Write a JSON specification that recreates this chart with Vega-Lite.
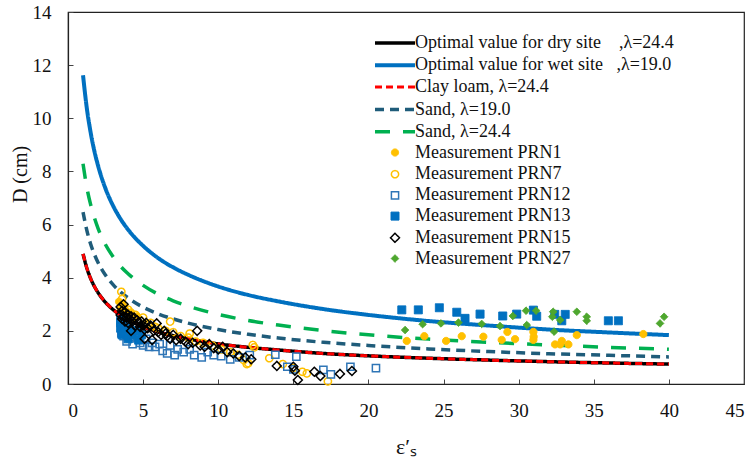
{
  "$schema": "https://vega.github.io/schema/vega-lite/v6.json",
  "width": 676,
  "height": 372,
  "autosize": {"type": "none"},
  "padding": {"left": 68, "top": 12, "right": 8, "bottom": 81},
  "background": "white",
  "config": {
    "font": "Liberation Serif",
    "view": {"stroke": "#222", "strokeWidth": 1.2},
    "axis": {
      "labelFont": "Liberation Serif", "labelFontSize": 19, "labelColor": "#111",
      "domainColor": "#222", "domainWidth": 1.2, "tickColor": "#444", "tickSize": -5,
      "grid": false, "titleFont": "Liberation Serif", "titleFontWeight": "normal", "titleColor": "#111"
    },
    "legend": {
      "labelFont": "Liberation Serif", "labelFontSize": 18, "labelColor": "#111",
      "labelLimit": 0, "symbolSize": 400, "labelOffset": 8, "rowPadding": 1.2,
      "padding": 0, "symbolOffset": 0
    }
  },
  "datasets": {
    "curves": [
      {"s":"A","x":1,"y":4.90},{"s":"A","x":1.25,"y":4.37},{"s":"A","x":1.5,"y":3.98},{"s":"A","x":1.75,"y":3.68},{"s":"A","x":2,"y":3.44},{"s":"A","x":2.5,"y":3.07},{"s":"A","x":3,"y":2.80},{"s":"A","x":3.5,"y":2.59},{"s":"A","x":4,"y":2.42},{"s":"A","x":5,"y":2.16},{"s":"A","x":6,"y":1.96},{"s":"A","x":7,"y":1.82},{"s":"A","x":8,"y":1.70},{"s":"A","x":10,"y":1.51},{"s":"A","x":12,"y":1.38},{"s":"A","x":14,"y":1.28},{"s":"A","x":17,"y":1.15},{"s":"A","x":20,"y":1.06},{"s":"A","x":24,"y":0.97},{"s":"A","x":28,"y":0.90},{"s":"A","x":32,"y":0.84},{"s":"A","x":36,"y":0.79},{"s":"A","x":40,"y":0.75},
      {"s":"B","x":1,"y":11.62},{"s":"B","x":1.25,"y":10.39},{"s":"B","x":1.5,"y":9.49},{"s":"B","x":1.75,"y":8.78},{"s":"B","x":2,"y":8.22},{"s":"B","x":2.5,"y":7.35},{"s":"B","x":3,"y":6.71},{"s":"B","x":3.5,"y":6.21},{"s":"B","x":4,"y":5.81},{"s":"B","x":5,"y":5.20},{"s":"B","x":6,"y":4.74},{"s":"B","x":7,"y":4.39},{"s":"B","x":8,"y":4.11},{"s":"B","x":10,"y":3.67},{"s":"B","x":12,"y":3.35},{"s":"B","x":14,"y":3.11},{"s":"B","x":17,"y":2.82},{"s":"B","x":20,"y":2.60},{"s":"B","x":24,"y":2.37},{"s":"B","x":28,"y":2.20},{"s":"B","x":32,"y":2.05},{"s":"B","x":36,"y":1.94},{"s":"B","x":40,"y":1.84},
      {"s":"D","x":1,"y":6.47},{"s":"D","x":1.25,"y":5.79},{"s":"D","x":1.5,"y":5.28},{"s":"D","x":1.75,"y":4.89},{"s":"D","x":2,"y":4.57},{"s":"D","x":2.5,"y":4.09},{"s":"D","x":3,"y":3.74},{"s":"D","x":3.5,"y":3.46},{"s":"D","x":4,"y":3.24},{"s":"D","x":5,"y":2.89},{"s":"D","x":6,"y":2.64},{"s":"D","x":7,"y":2.45},{"s":"D","x":8,"y":2.29},{"s":"D","x":10,"y":2.05},{"s":"D","x":12,"y":1.87},{"s":"D","x":14,"y":1.73},{"s":"D","x":17,"y":1.57},{"s":"D","x":20,"y":1.45},{"s":"D","x":24,"y":1.32},{"s":"D","x":28,"y":1.22},{"s":"D","x":32,"y":1.14},{"s":"D","x":36,"y":1.08},{"s":"D","x":40,"y":1.02},
      {"s":"E","x":1,"y":8.29},{"s":"E","x":1.25,"y":7.41},{"s":"E","x":1.5,"y":6.77},{"s":"E","x":1.75,"y":6.27},{"s":"E","x":2,"y":5.86},{"s":"E","x":2.5,"y":5.24},{"s":"E","x":3,"y":4.79},{"s":"E","x":3.5,"y":4.43},{"s":"E","x":4,"y":4.15},{"s":"E","x":5,"y":3.71},{"s":"E","x":6,"y":3.38},{"s":"E","x":7,"y":3.13},{"s":"E","x":8,"y":2.93},{"s":"E","x":10,"y":2.62},{"s":"E","x":12,"y":2.39},{"s":"E","x":14,"y":2.22},{"s":"E","x":17,"y":2.01},{"s":"E","x":20,"y":1.85},{"s":"E","x":24,"y":1.69},{"s":"E","x":28,"y":1.57},{"s":"E","x":32,"y":1.47},{"s":"E","x":36,"y":1.38},{"s":"E","x":40,"y":1.31},
      {"s":"C","x":1,"y":4.90},{"s":"C","x":1.25,"y":4.37},{"s":"C","x":1.5,"y":3.98},{"s":"C","x":1.75,"y":3.68},{"s":"C","x":2,"y":3.44},{"s":"C","x":2.5,"y":3.07},{"s":"C","x":3,"y":2.80},{"s":"C","x":3.5,"y":2.59},{"s":"C","x":4,"y":2.42},{"s":"C","x":5,"y":2.16},{"s":"C","x":6,"y":1.96},{"s":"C","x":7,"y":1.82},{"s":"C","x":8,"y":1.70},{"s":"C","x":10,"y":1.51},{"s":"C","x":12,"y":1.38},{"s":"C","x":14,"y":1.28},{"s":"C","x":17,"y":1.15},{"s":"C","x":20,"y":1.06},{"s":"C","x":24,"y":0.97},{"s":"C","x":28,"y":0.90},{"s":"C","x":32,"y":0.84},{"s":"C","x":36,"y":0.79},{"s":"C","x":40,"y":0.75}
    ],
    "points": [
      {"s":"F","x":3.4,"y":3.1},{"s":"F","x":3.5,"y":2.85},{"s":"F","x":3.6,"y":3.0},{"s":"F","x":3.8,"y":2.8},{"s":"F","x":4.2,"y":2.7},{"s":"F","x":4.6,"y":2.55},
      {"s":"F","x":22.55,"y":1.62},{"s":"F","x":23.72,"y":1.80},{"s":"F","x":25.17,"y":1.62},{"s":"F","x":26.21,"y":1.80},{"s":"F","x":27.65,"y":1.78},{"s":"F","x":28.87,"y":1.66},{"s":"F","x":29.25,"y":1.96},{"s":"F","x":29.76,"y":1.69},{"s":"F","x":30.98,"y":1.96},{"s":"F","x":31.0,"y":1.78},{"s":"F","x":30.98,"y":1.66},{"s":"F","x":32.42,"y":1.49},{"s":"F","x":32.76,"y":1.49},{"s":"F","x":32.87,"y":1.62},{"s":"F","x":33.31,"y":1.49},{"s":"F","x":33.87,"y":1.84},{"s":"F","x":38.3,"y":1.88},
      {"s":"G","x":3.55,"y":3.47},{"s":"G","x":3.6,"y":3.2},{"s":"G","x":3.7,"y":2.9},{"s":"G","x":3.9,"y":2.65},{"s":"G","x":4.0,"y":2.8},{"s":"G","x":4.3,"y":2.5},{"s":"G","x":4.5,"y":2.6},{"s":"G","x":4.8,"y":2.4},{"s":"G","x":5.0,"y":2.5},{"s":"G","x":5.3,"y":2.25},{"s":"G","x":5.5,"y":2.3},{"s":"G","x":5.8,"y":2.15},{"s":"G","x":6.0,"y":2.1},{"s":"G","x":6.5,"y":2.0},{"s":"G","x":6.8,"y":2.35},{"s":"G","x":7.0,"y":1.95},{"s":"G","x":7.5,"y":1.8},{"s":"G","x":8.1,"y":1.9},{"s":"G","x":8.0,"y":1.75},{"s":"G","x":8.5,"y":1.6},{"s":"G","x":9.0,"y":1.55},{"s":"G","x":9.6,"y":1.45},{"s":"G","x":10.2,"y":1.3},{"s":"G","x":10.8,"y":1.2},{"s":"G","x":11.3,"y":1.1},{"s":"G","x":11.7,"y":0.9},{"s":"G","x":11.9,"y":0.75},{"s":"G","x":12.0,"y":0.78},{"s":"G","x":12.3,"y":1.47},{"s":"G","x":12.4,"y":1.38},{"s":"G","x":13.4,"y":0.97},{"s":"G","x":14.3,"y":0.75},{"s":"G","x":15.0,"y":0.6},{"s":"G","x":15.6,"y":0.46},{"s":"G","x":15.9,"y":0.4},{"s":"G","x":17.3,"y":0.1},
      {"s":"H","x":3.5,"y":2.3},{"s":"H","x":3.55,"y":1.9},{"s":"H","x":3.6,"y":2.0},{"s":"H","x":3.7,"y":1.8},{"s":"H","x":3.8,"y":2.1},{"s":"H","x":3.9,"y":1.6},{"s":"H","x":4.0,"y":1.9},{"s":"H","x":4.15,"y":1.72},{"s":"H","x":4.3,"y":1.5},{"s":"H","x":4.4,"y":2.0},{"s":"H","x":4.6,"y":1.75},{"s":"H","x":4.8,"y":1.55},{"s":"H","x":5.0,"y":1.45},{"s":"H","x":5.2,"y":1.7},{"s":"H","x":5.4,"y":1.4},{"s":"H","x":5.6,"y":1.55},{"s":"H","x":5.8,"y":1.4},{"s":"H","x":6.1,"y":1.5},{"s":"H","x":6.3,"y":1.25},{"s":"H","x":6.6,"y":1.15},{"s":"H","x":6.8,"y":1.45},{"s":"H","x":7.1,"y":1.09},{"s":"H","x":7.3,"y":1.3},{"s":"H","x":7.7,"y":1.2},{"s":"H","x":8.1,"y":1.3},{"s":"H","x":8.4,"y":1.09},{"s":"H","x":8.9,"y":1.0},{"s":"H","x":9.3,"y":1.2},{"s":"H","x":9.7,"y":1.09},{"s":"H","x":10.2,"y":1.05},{"s":"H","x":10.8,"y":0.93},{"s":"H","x":11.4,"y":1.0},{"s":"H","x":12.1,"y":1.09},{"s":"H","x":13.8,"y":1.1},{"s":"H","x":14.6,"y":0.65},{"s":"H","x":15.0,"y":0.55},{"s":"H","x":15.2,"y":1.03},{"s":"H","x":17.0,"y":0.53},{"s":"H","x":17.5,"y":0.36},{"s":"H","x":18.8,"y":0.65},{"s":"H","x":20.5,"y":0.6},
      {"s":"I","x":3.5,"y":2.4},{"s":"I","x":3.5,"y":2.1},{"s":"I","x":3.6,"y":1.85},{"s":"I","x":3.7,"y":2.2},{"s":"I","x":3.8,"y":1.95},{"s":"I","x":3.9,"y":2.3},{"s":"I","x":4.0,"y":1.7},{"s":"I","x":4.1,"y":2.1},{"s":"I","x":4.3,"y":1.85},{"s":"I","x":4.5,"y":2.0},{"s":"I","x":4.7,"y":1.65},{"s":"I","x":4.9,"y":1.85},
      {"s":"I","x":22.22,"y":2.79},{"s":"I","x":23.32,"y":2.79},{"s":"I","x":24.72,"y":2.87},{"s":"I","x":25.88,"y":2.70},{"s":"I","x":26.43,"y":2.47},{"s":"I","x":27.43,"y":2.63},{"s":"I","x":28.94,"y":2.56},{"s":"I","x":29.87,"y":2.63},{"s":"I","x":30.98,"y":2.78},{"s":"I","x":31.2,"y":2.55},{"s":"I","x":32.4,"y":2.62},{"s":"I","x":32.87,"y":2.38},{"s":"I","x":33.1,"y":2.62},{"s":"I","x":35.97,"y":2.38},{"s":"I","x":36.64,"y":2.38},
      {"s":"J","x":3.5,"y":2.9},{"s":"J","x":3.5,"y":2.6},{"s":"J","x":3.6,"y":2.75},{"s":"J","x":3.6,"y":2.45},{"s":"J","x":3.7,"y":3.0},{"s":"J","x":3.7,"y":2.55},{"s":"J","x":3.8,"y":2.7},{"s":"J","x":3.8,"y":2.35},{"s":"J","x":3.9,"y":2.5},{"s":"J","x":4.0,"y":2.6},{"s":"J","x":4.0,"y":2.3},{"s":"J","x":4.1,"y":2.45},{"s":"J","x":4.2,"y":2.0},{"s":"J","x":4.2,"y":2.55},{"s":"J","x":4.3,"y":2.35},{"s":"J","x":4.4,"y":2.5},{"s":"J","x":4.5,"y":2.2},{"s":"J","x":4.6,"y":2.4},{"s":"J","x":4.7,"y":2.3},{"s":"J","x":4.8,"y":2.15},{"s":"J","x":4.9,"y":2.35},{"s":"J","x":5.0,"y":2.2},{"s":"J","x":5.1,"y":1.7},{"s":"J","x":5.1,"y":2.05},{"s":"J","x":5.2,"y":2.3},{"s":"J","x":5.3,"y":2.1},{"s":"J","x":5.5,"y":2.2},{"s":"J","x":5.6,"y":1.66},{"s":"J","x":5.7,"y":2.0},{"s":"J","x":5.9,"y":2.28},{"s":"J","x":6.0,"y":1.95},{"s":"J","x":6.2,"y":1.85},{"s":"J","x":6.4,"y":2.0},{"s":"J","x":6.5,"y":1.9},{"s":"J","x":6.6,"y":1.8},{"s":"J","x":6.8,"y":1.7},{"s":"J","x":7.0,"y":1.85},{"s":"J","x":7.2,"y":1.65},{"s":"J","x":7.5,"y":1.7},{"s":"J","x":7.8,"y":1.6},{"s":"J","x":8.0,"y":1.5},{"s":"J","x":8.3,"y":1.55},{"s":"J","x":8.6,"y":2.0},{"s":"J","x":8.8,"y":1.45},{"s":"J","x":9.1,"y":1.4},{"s":"J","x":9.4,"y":1.5},{"s":"J","x":9.7,"y":1.35},{"s":"J","x":10.0,"y":1.3},{"s":"J","x":10.3,"y":1.4},{"s":"J","x":10.6,"y":1.2},{"s":"J","x":11.0,"y":1.15},{"s":"J","x":11.4,"y":1.05},{"s":"J","x":11.8,"y":1.0},{"s":"J","x":12.2,"y":0.93},
      {"s":"J","x":13.9,"y":0.68},{"s":"J","x":15.0,"y":0.65},{"s":"J","x":15.1,"y":0.5},{"s":"J","x":15.3,"y":0.15},{"s":"J","x":16.4,"y":0.46},{"s":"J","x":16.8,"y":0.3},{"s":"J","x":18.1,"y":0.38},{"s":"J","x":18.9,"y":0.49},
      {"s":"K","x":22.44,"y":2.03},{"s":"K","x":23.61,"y":2.25},{"s":"K","x":24.83,"y":2.28},{"s":"K","x":25.99,"y":2.31},{"s":"K","x":27.54,"y":2.26},{"s":"K","x":28.76,"y":2.18},{"s":"K","x":29.61,"y":2.56},{"s":"K","x":30.49,"y":2.76},{"s":"K","x":31.16,"y":2.76},{"s":"K","x":30.54,"y":2.22},{"s":"K","x":32.24,"y":2.53},{"s":"K","x":32.3,"y":2.72},{"s":"K","x":32.36,"y":1.97},{"s":"K","x":32.76,"y":2.41},{"s":"K","x":33.87,"y":2.72},{"s":"K","x":34.53,"y":2.53},{"s":"K","x":34.53,"y":2.38},{"s":"K","x":39.41,"y":2.28},{"s":"K","x":39.68,"y":2.53}
    ]
  },
  "encoding": {
    "x": {
      "field": "x", "type": "quantitative",
      "scale": {"domain": [0, 45], "nice": false},
      "axis": {"values": [0,5,10,15,20,25,30,35,40,45], "title": "ε′ₛ", "titleFontSize": 22, "titlePadding": 16, "labelPadding": 22}
    },
    "y": {
      "field": "y", "type": "quantitative",
      "scale": {"domain": [0, 14], "nice": false},
      "axis": {"values": [0,2,4,6,8,10,12,14], "title": "D (cm)", "titleFontSize": 20, "labelPadding": 22, "titleX": -38, "titleY": 162}
    },
    "stroke": {
      "field": "s", "type": "nominal",
      "scale": {"domain": ["A","B","C","D","E","F","G","H","I","J","K"],
        "range": ["#000000","#0070C0","#FF0000","#1F5C7A","#00B050","#FFC000","#FFC000","#2E75B6","#0070C0","#000000","#4EA72E"]},
      "legend": {
        "orient": "none", "legendX": 315, "legendY": 19, "title": null,
        "labelExpr": "datum.label == 'A' ? 'Optimal value for dry site\u00a0\u00a0\u00a0\u00a0,λ=24.4' : datum.label == 'B' ? 'Optimal value for wet site\u00a0\u00a0\u00a0,λ=19.0' : datum.label == 'C' ? 'Clay loam, λ=24.4' : datum.label == 'D' ? 'Sand, λ=19.0' : datum.label == 'E' ? 'Sand, λ=24.4' : datum.label == 'F' ? 'Measurement PRN1' : datum.label == 'G' ? 'Measurement PRN7' : datum.label == 'H' ? 'Measurement PRN12' : datum.label == 'I' ? 'Measurement PRN13' : datum.label == 'J' ? 'Measurement PRN15' : 'Measurement PRN27'"
      }
    },
    "strokeDash": {
      "field": "s", "type": "nominal",
      "scale": {"domain": ["A","B","C","D","E","F","G","H","I","J","K"],
        "range": [[1,0],[1,0],[7,4],[9,6],[15,13],[1,0],[1,0],[1,0],[1,0],[1,0],[1,0]]}
    },
    "strokeWidth": {
      "field": "s", "type": "nominal",
      "scale": {"type": "ordinal", "domain": ["A","B","C","D","E","F","G","H","I","J","K"],
        "range": [3.5,4,3,3.5,3.5,1,1.5,1.5,1,1.5,1]}
    }
  },
  "layer": [
    {
      "data": {"name": "curves"},
      "mark": {"type": "line", "interpolate": "monotone"}
    },
    {
      "data": {"name": "points"},
      "mark": {"type": "point", "size": 400, "opacity": 1},
      "encoding": {
        "shape": {
          "field": "s", "type": "nominal",
          "scale": {"domain": ["A","B","C","D","E","F","G","H","I","J","K"],
            "range": ["M-2,0H2","M-2,0H2","M-2,0H2","M-2,0H2","M-2,0H2",
              "M-0.36,0A0.36,0.36,0,1,0,0.36,0A0.36,0.36,0,1,0,-0.36,0Z",
              "M-0.36,0A0.36,0.36,0,1,0,0.36,0A0.36,0.36,0,1,0,-0.36,0Z",
              "M-0.36,-0.36H0.36V0.36H-0.36Z",
              "M-0.4,-0.4H0.4V0.4H-0.4Z",
              "M0,-0.45L0.45,0L0,0.45L-0.45,0Z",
              "M0,-0.38L0.38,0L0,0.38L-0.38,0Z"]}
        },
        "fill": {
          "field": "s", "type": "nominal",
          "scale": {"domain": ["A","B","C","D","E","F","G","H","I","J","K"],
            "range": ["transparent","transparent","transparent","transparent","transparent","#FFC000","transparent","transparent","#0070C0","transparent","#4EA72E"]}
        }
      }
    }
  ]
}
